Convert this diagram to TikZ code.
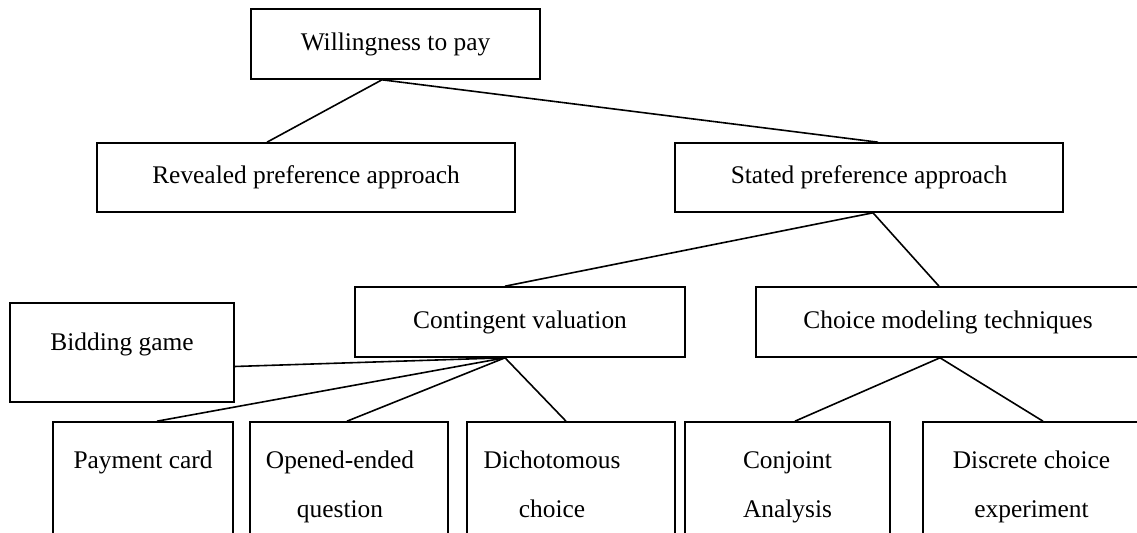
\documentclass[tikz,border=0pt]{standalone}
\usepackage{fontspec}
\setmainfont{Liberation Serif}
\usepackage{tikz}

\newcommand\boxfont{\fontsize{12.7pt}{24.5pt}\selectfont}
% two struts lines, optional shift to the left
\newcommand\twoline[3][0pt]{\strut#2\hspace*{#1}\\\strut#3\hspace*{#1}}

\begin{document}
\begin{tikzpicture}[x=0.5pt, y=-0.5pt,
  box/.style={draw, line width=0.8pt, inner sep=0pt, align=center, font=\boxfont},
  link/.style={line width=0.8pt}]

% Heights of the boxes
\def\HB{35pt}    % one-line boxes
\def\HL{61.7pt}  % bottom row (cut by the page)

\useasboundingbox (0,0) rectangle (1137,533);

% Top level
\node[box, minimum width=144.5pt, minimum height=\HB] (wtp) at (395.5,44) {Willingness to pay};

% Approaches
\node[box, minimum width=209pt, minimum height=34.5pt] (revealed) at (306,177.5) {Revealed preference approach};
\node[box, minimum width=194pt, minimum height=34.5pt] (stated) at (869,177.5) {Stated preference approach};

% Methods
\node[box, minimum width=165pt, minimum height=\HB] (cv) at (520,322) {Contingent valuation};
\node[box, minimum width=192pt, minimum height=\HB] (choice) at (948,322) {Choice modeling techniques};
\node[box, minimum width=112pt, minimum height=49.5pt, text depth=11pt] (bidding) at (122,352.5) {Bidding game};

% Bottom row
\node[box, minimum width=90pt, minimum height=\HL] (payment) at (143,483.7) {\twoline{Payment card}{}};
\node[box, minimum width=99pt, minimum height=\HL] (opened) at (349,483.7) {\twoline[9pt]{Opened-ended}{question}};
\node[box, minimum width=104pt, minimum height=\HL] (dichot) at (571,483.7) {\twoline[19pt]{Dichotomous}{choice}};
\node[box, minimum width=102.5pt, minimum height=\HL] (conjoint) at (787.5,483.7) {\twoline{Conjoint}{Analysis}};
\node[box, minimum width=108.5pt, minimum height=\HL] (discrete) at (1031.5,483.7) {\twoline{Discrete choice}{experiment}};

% Connectors
\draw[link] ([xshift=-6.75pt]wtp.south) -- ([xshift=-19.5pt]revealed.north);
\draw[link] ([xshift=-6.75pt]wtp.south) -- ([xshift=4.5pt]stated.north);

\draw[link] ([xshift=2pt]stated.south) -- ([xshift=-7.5pt]cv.north);
\draw[link] ([xshift=2pt]stated.south) -- ([xshift=-4.5pt]choice.north);

\draw[link] ([xshift=-7.5pt]cv.south) -- ([yshift=-7pt]bidding.east);
\draw[link] ([xshift=-7.5pt]cv.south) -- ([xshift=7pt]payment.north);
\draw[link] ([xshift=-7.5pt]cv.south) -- ([xshift=-1pt]opened.north);
\draw[link] ([xshift=-7.5pt]cv.south) -- ([xshift=-2.5pt]dichot.north);

\draw[link] ([xshift=-4pt]choice.south) -- ([xshift=3.75pt]conjoint.north);
\draw[link] ([xshift=-4pt]choice.south) -- ([xshift=5.75pt]discrete.north);

\end{tikzpicture}
\end{document}
